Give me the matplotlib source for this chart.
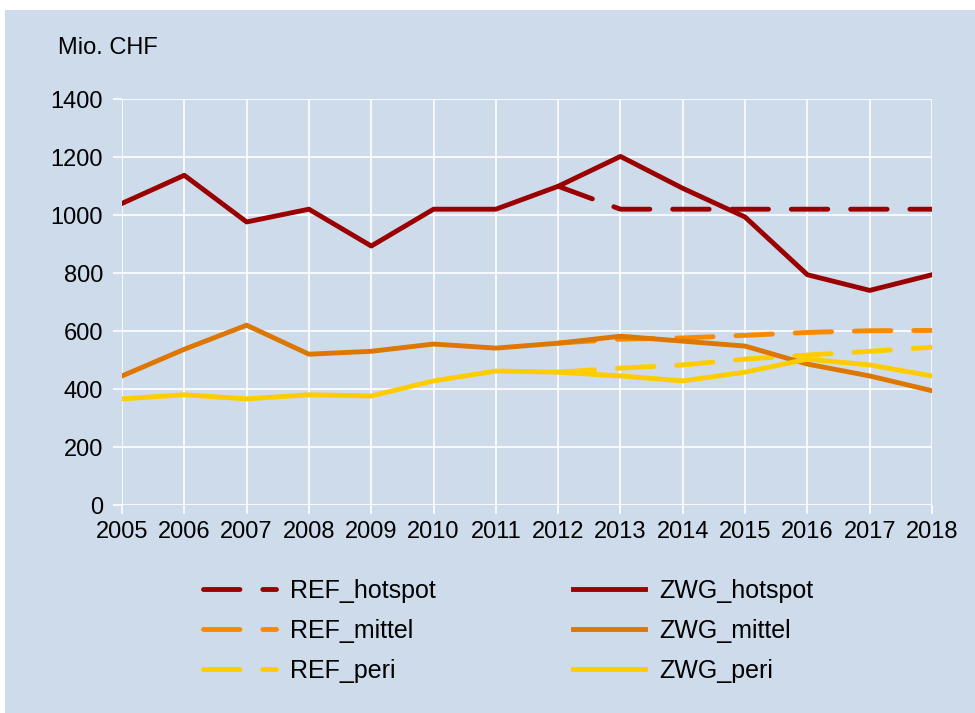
import numpy as np
import matplotlib
matplotlib.use("Agg")
import matplotlib.pyplot as plt
from matplotlib.patches import Rectangle

plt.rcParams['font.family'] = ['Liberation Sans', 'DejaVu Sans']

# Daten (Mio. CHF)
years = list(range(2005, 2019))
zwg_hotspot = [1040, 1137, 976, 1020, 893, 1020, 1020, 1099, 1202, 1092, 993, 794, 740, 794]
zwg_mittel = [445, 537, 620, 520, 530, 555, 541, 558, 582, 565, 548, 486, 445, 394]
zwg_peri = [366, 380, 366, 380, 376, 428, 462, 458, 445, 428, 458, 503, 483, 445]
ref_years = list(range(2012, 2019))
ref_hotspot = [1099, 1020, 1020, 1020, 1020, 1020, 1020]
ref_mittel = [558, 572, 576, 585, 595, 601, 602]
ref_peri = [458, 472, 483, 503, 517, 530, 544]

c_hot = '#9b0000'
c_mit_ref = '#f78a00'
c_mit_zwg = '#dd7700'
c_peri = '#ffcc00'
bg = '#cddbeb'

W, H = 975, 713
fig = plt.figure(figsize=(9.75, 7.13), dpi=100)
fig.patch.set_facecolor('white')
fig.add_artist(Rectangle((5 / W, 0), 1 - 5 / W, 1 - 10 / H, transform=fig.transFigure,
                         facecolor=bg, edgecolor='none', zorder=-10))

ax = fig.add_axes([122 / W, 1 - 505 / H, (932 - 122) / W, (505 - 99) / H])
ax.set_facecolor(bg)

lw = 3.5
dash = (7.5, 4.7)
ax.plot(ref_years, ref_hotspot, color=c_hot, lw=lw, dashes=dash, dash_capstyle='round', label='REF_hotspot')
ax.plot(ref_years, ref_mittel, color=c_mit_ref, lw=lw, dashes=dash, dash_capstyle='round', label='REF_mittel')
ax.plot(ref_years, ref_peri, color=c_peri, lw=lw, dashes=dash, dash_capstyle='round', label='REF_peri')
ax.plot(years, zwg_hotspot, color=c_hot, lw=lw, label='ZWG_hotspot')
ax.plot(years, zwg_mittel, color=c_mit_zwg, lw=lw, label='ZWG_mittel')
ax.plot(years, zwg_peri, color=c_peri, lw=lw, label='ZWG_peri')

ax.set_xlim(2005, 2018)
ax.set_ylim(0, 1400)
ax.set_xticks(years)
ax.set_yticks(np.arange(0, 1401, 200))
ax.grid(True, color='white', lw=1.2)
ax.set_axisbelow(True)
for s in ax.spines.values():
    s.set_visible(False)
ax.tick_params(axis='both', colors='white', length=6.5, width=1.2, labelsize=17, labelcolor='black')
ax.tick_params(axis='y', pad=7)
ax.tick_params(axis='x', pad=5)

fig.text(58 / W, 1 - 48 / H, 'Mio. CHF', fontsize=17, va='center', ha='left')

fig.legend(loc='upper left', bbox_to_anchor=(203 / W, 1 - 579 / H), ncol=2, frameon=False,
           fontsize=18, handlelength=2.9, handletextpad=0.56, columnspacing=5.5,
           labelspacing=0.64, borderpad=0, borderaxespad=0)

fig.savefig('out.png', dpi=100, facecolor=fig.get_facecolor())
